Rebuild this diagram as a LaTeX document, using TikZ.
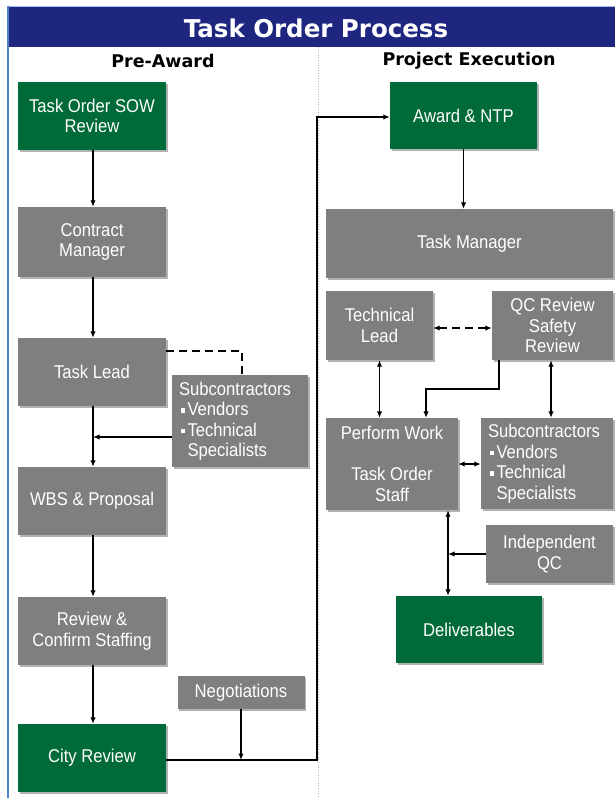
\documentclass[tikz,border=0pt]{standalone}
\usepackage{fontspec}
\setmainfont{Liberation Sans}[FakeStretch=0.9]
\newfontfamily\titlefont{DejaVu Sans}
\usetikzlibrary{arrows.meta,shadows,calc}
\definecolor{navy}{RGB}{30,38,128}
\definecolor{boxgreen}{RGB}{0,106,56}
\definecolor{boxgrey}{RGB}{127,127,127}
\definecolor{frameblue}{RGB}{80,130,205}
\tikzset{
  basebox/.style={draw=none, inner sep=2pt, text=white, align=center,
    font=\fontsize{18.5}{20.5}\selectfont,
    drop shadow={shadow xshift=1.5pt, shadow yshift=-2pt, opacity=0.3, fill=black}},
  gbox/.style={basebox, fill=boxgreen},
  ybox/.style={basebox, fill=boxgrey},
  lbox/.style={basebox, fill=boxgrey, align=left, inner xsep=7pt, text width=#1},
  conn/.style={line width=1.8pt, black},
  arr/.style={conn, -{Latex[length=6.5pt,width=5.5pt]}},
  darr/.style={conn, {Latex[length=6.5pt,width=5.5pt]}-{Latex[length=6.5pt,width=5.5pt]}},
  dashline/.style={conn, dash pattern=on 8pt off 5pt},
}
\newcommand{\bx}{\hspace{1.5pt}\textcolor{white}{\rule[3pt]{4.5pt}{4.5pt}}\hspace{2.5pt}}
\newcommand{\bxp}{\hspace{8.5pt}}
\begin{document}
\begin{tikzpicture}[x=1pt,y=-1pt]
\useasboundingbox (0,0) rectangle (615,798);
\fill[white] (0,0) rectangle (615,798);
% frame
\fill[navy] (8,7) rectangle (615,47);
\draw[frameblue!50, line width=0.8pt] (8,6.5) -- (615,6.5);
\draw[frameblue, line width=2pt] (8,6) -- (8,798);
\draw[gray!60, line width=0.6pt, dotted] (318,47) -- (318,798);
\node[text=white, font=\titlefont\fontsize{24.5}{28}\selectfont\bfseries] (title) at (316,28) {Task Order Process};
\node[font=\titlefont\fontsize{17.5}{21}\selectfont\bfseries] (pre) at (163,61) {Pre-Award};
\node[font=\titlefont\fontsize{17.5}{21}\selectfont\bfseries] (pe) at (469,61) {Project Execution};
% left column
\node[gbox, minimum width=148pt, minimum height=68pt] (sow) at (92,116) {Task Order SOW\\Review};
\node[ybox, minimum width=148pt, minimum height=70pt] (cm) at (92,242) {Contract\\Manager};
\node[ybox, minimum width=148pt, minimum height=68pt] (tl) at (92,372) {Task Lead};
\node[lbox=122pt, minimum height=92pt] (sub1) at (240,421) {Subcontractors\\\bx Vendors\\\bx Technical\\\bxp Specialists};
\node[ybox, minimum width=148pt, minimum height=68pt] (wbs) at (92,501) {WBS \& Proposal};
\node[ybox, minimum width=148pt, minimum height=68pt] (rcs) at (92,631) {Review \&\\Confirm Staffing};
\node[ybox, minimum width=127pt, minimum height=33pt] (neg) at (241,692.5) {Negotiations};
\node[gbox, minimum width=148pt, minimum height=68pt] (city) at (92,758) {City Review};
% right column
\node[gbox, minimum width=147pt, minimum height=67pt] (award) at (463.5,115.5) {Award \& NTP};
\node[ybox, minimum width=287pt, minimum height=69pt] (tm) at (469.5,243.5) {Task Manager};
\node[ybox, minimum width=107pt, minimum height=69pt] (tech) at (379.5,325.5) {Technical\\Lead};
\node[ybox, minimum width=121pt, minimum height=69pt] (qc) at (552.5,325.5) {QC Review\\Safety\\Review};
\node[ybox, minimum width=132pt, minimum height=92pt] (pw) at (392,464) {Perform Work\\[20.5pt]Task Order\\Staff};
\node[lbox=118pt, minimum height=91pt] (sub2) at (547,463.5) {Subcontractors\\\bx Vendors\\\bx Technical\\\bxp Specialists};
\node[ybox, minimum width=127pt, minimum height=58pt] (iqc) at (549.5,554) {Independent\\QC};
\node[gbox, minimum width=146pt, minimum height=67pt] (del) at (469,629.5) {Deliverables};
% left connectors
\draw[arr] ([xshift=1pt]sow.south) -- ([xshift=1pt]cm.north);
\draw[arr] ([xshift=1pt]cm.south) -- ([xshift=1pt]tl.north);
\draw[arr] ([xshift=1pt]tl.south) -- ([xshift=1pt]wbs.north);
\draw[dashline] ([yshift=21pt]tl.east) -| ([xshift=2pt]sub1.north);
\coordinate (j1) at (93,437);
\draw[arr] (sub1.west |- j1) -- (j1);
\draw[arr] ([xshift=1pt]wbs.south) -- ([xshift=1pt]rcs.north);
\draw[arr] ([xshift=1pt]rcs.south) -- ([xshift=1pt]city.north);
\coordinate (bend) at (317,760);
\draw[arr] ([yshift=-2pt]city.east) -- (bend) |- ([yshift=-1.5pt]award.west);
\draw[arr] (neg.south) -- (neg.south |- bend);
% right connectors
\draw[arr] (award.south) -- (award.south |- tm.north);
\draw[darr, dash pattern=on 8pt off 5pt] ([yshift=-2.5pt]tech.east) -- ([yshift=-2.5pt]qc.west);
\draw[darr] (tech.south) -- (tech.south |- pw.north);
\coordinate (b1) at (426,389);
\draw[arr] ([xshift=-53.5pt]qc.south) |- (b1) -- (b1 |- pw.north);
\draw[darr] ([xshift=-1.5pt]qc.south) -- ([xshift=-1.5pt]qc.south |- sub2.north);
\draw[darr] (pw.east) -- (sub2.west |- pw.east);
\coordinate (j2) at (448,554);
\draw[darr] (pw.south -| j2) -- (del.north -| j2);
\draw[arr] (iqc.west) -- (j2);
\end{tikzpicture}
\end{document}
